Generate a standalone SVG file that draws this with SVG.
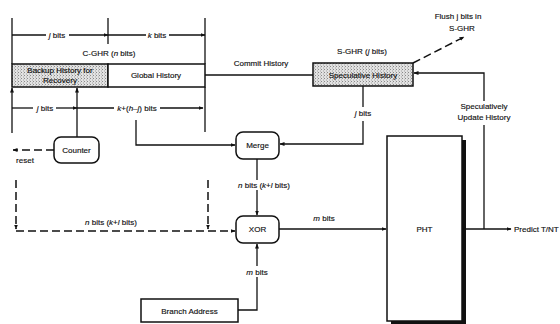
<svg xmlns="http://www.w3.org/2000/svg" width="560" height="324" viewBox="0 0 560 324">
<defs>
<marker id="ah" viewBox="0 0 10 10" refX="9" refY="5" markerWidth="5" markerHeight="5" orient="auto-start-reverse" markerUnits="userSpaceOnUse">
<path d="M0,1 L10,5 L0,9 Z" fill="#111"/>
</marker>
<pattern id="stip" width="3" height="3" patternUnits="userSpaceOnUse">
<rect width="3" height="3" fill="#e2e2e2"/>
<rect width="1" height="1" fill="#8a8a8a"/>
<rect x="2" y="1.5" width="1" height="1" fill="#a5a5a5"/>
</pattern>
</defs>
<style>
text{font-family:"Liberation Sans",Arial,sans-serif;font-size:8px;fill:#111;stroke:#111;stroke-width:0.15;}
.m{text-anchor:middle;}
.box{fill:#fff;stroke:#111;stroke-width:1.5;}
.sh{fill:url(#stip);stroke:#111;stroke-width:1.5;}
.ln{fill:none;stroke:#111;stroke-width:1.3;}
.ar{fill:none;stroke:#111;stroke-width:1.3;marker-end:url(#ah);}
.dar{fill:none;stroke:#111;stroke-width:1.5;stroke-dasharray:8,4;marker-end:url(#ah);}
</style>

<g id="cghr">
<rect class="sh" x="12" y="64" width="96" height="23"/>
<rect class="box" x="108" y="64" width="97" height="23"/>
<text class="m" x="60" y="73">Backup History for</text>
<text class="m" x="60" y="83">Recovery</text>
<text class="m" x="156" y="78">Global History</text>
<text class="m" x="109" y="56">C-GHR (<tspan font-style="italic">n</tspan> bits)</text>
</g>

<g id="sghr">
<rect class="sh" x="313" y="63" width="100" height="23"/>
<text class="m" x="363" y="78">Speculative History</text>
<text class="m" x="362" y="54">S-GHR (<tspan font-style="italic">j</tspan> bits)</text>
</g>

<g id="counter">
<rect class="box" x="54" y="137" width="45" height="26" rx="7"/>
<text class="m" x="76.5" y="153">Counter</text>
</g>

<g id="merge">
<rect class="box" x="236" y="132" width="43" height="27" rx="7"/>
<text class="m" x="257.5" y="148">Merge</text>
</g>

<g id="xor">
<rect class="box" x="236" y="216" width="43" height="27" rx="7"/>
<text class="m" x="257.5" y="232">XOR</text>
</g>

<g id="branch">
<rect class="box" x="141" y="299" width="97" height="23"/>
<text class="m" x="189.5" y="314">Branch Address</text>
</g>

<g id="pht">
<rect x="391" y="140" width="75" height="185" fill="#111"/>
<rect class="box" x="387" y="136" width="75" height="185"/>
<text class="m" x="424.5" y="232">PHT</text>
</g>

<g id="connectors">
<line class="ln" x1="12" y1="18" x2="12" y2="64"/>
<line class="ln" x1="108" y1="18" x2="108" y2="44"/>
<line class="ln" x1="205" y1="18" x2="205" y2="64"/>
<line class="ln" x1="12" y1="35" x2="46" y2="35"/>
<line class="ar" x1="69" y1="35" x2="108" y2="35"/>
<line class="ln" x1="108" y1="35" x2="146" y2="35"/>
<line class="ar" x1="169" y1="35" x2="205" y2="35"/>
<line class="ar" x1="12" y1="133" x2="12" y2="88"/>
<line class="ln" x1="205" y1="87" x2="205" y2="132"/>
<line class="ln" x1="12" y1="108" x2="33" y2="108"/>
<line class="ar" x1="56" y1="108" x2="77" y2="108"/>
<line class="ln" x1="77" y1="108" x2="114" y2="108"/>
<line class="ar" x1="160" y1="108" x2="203" y2="108"/>
<line class="ar" x1="77" y1="137" x2="77" y2="88"/>
<polyline class="ar" points="136,120 136,145 235,145"/>
<line class="ln" x1="205" y1="75" x2="313" y2="75"/>
<polyline class="ln" points="363,86 363,107"/>
<polyline class="ar" points="363,121 363,144 280,144"/>
<line class="ln" x1="257" y1="159" x2="257" y2="180"/>
<line class="ar" x1="257" y1="190" x2="257" y2="215"/>
<line class="ar" x1="279" y1="229" x2="386" y2="229"/>
<polyline class="ln" points="238,310 257,310 257,277"/>
<line class="ar" x1="257" y1="266" x2="257" y2="244"/>
<line class="ar" x1="462" y1="229" x2="511" y2="229"/>
<polyline class="ln" points="484,229 484,125"/>
<polyline class="ar" points="484,101 484,73 414,73"/>
<line class="dar" x1="413" y1="63" x2="464" y2="37"/>
<line class="dar" x1="54" y1="150" x2="13" y2="150"/>
<line class="dar" x1="16" y1="180" x2="16" y2="229"/>
<line class="dar" x1="208" y1="180" x2="208" y2="229"/>
<line class="dar" x1="16" y1="231" x2="235" y2="231"/>
</g>

<g id="labels">
<text class="m" x="57" y="38"><tspan font-style="italic">j</tspan> bits</text>
<text class="m" x="157" y="38"><tspan font-style="italic">k</tspan> bits</text>
<text class="m" x="45" y="111"><tspan font-style="italic">j</tspan> bits</text>
<text class="m" x="137" y="111"><tspan font-style="italic">k</tspan>+(<tspan font-style="italic">h</tspan>–<tspan font-style="italic">j</tspan>) bits</text>
<text class="m" x="261" y="66">Commit History</text>
<text class="m" x="363" y="116"><tspan font-style="italic">j</tspan> bits</text>
<text class="m" x="25" y="163">reset</text>
<text class="m" x="111" y="225"><tspan font-style="italic">n</tspan> bits (<tspan font-style="italic">k</tspan>+<tspan font-style="italic">l</tspan> bits)</text>
<text class="m" x="264" y="188"><tspan font-style="italic">n</tspan> bits (<tspan font-style="italic">k</tspan>+<tspan font-style="italic">l</tspan> bits)</text>
<text class="m" x="324" y="221"><tspan font-style="italic">m</tspan> bits</text>
<text class="m" x="257" y="275"><tspan font-style="italic">m</tspan> bits</text>
<text class="m" x="484" y="109">Speculatively</text>
<text class="m" x="484" y="120">Update History</text>
<text class="m" x="458" y="19">Flush j bits in</text>
<text class="m" x="462" y="31">S-GHR</text>
<text x="514" y="232">Predict T/NT</text>
</g>
</svg>
